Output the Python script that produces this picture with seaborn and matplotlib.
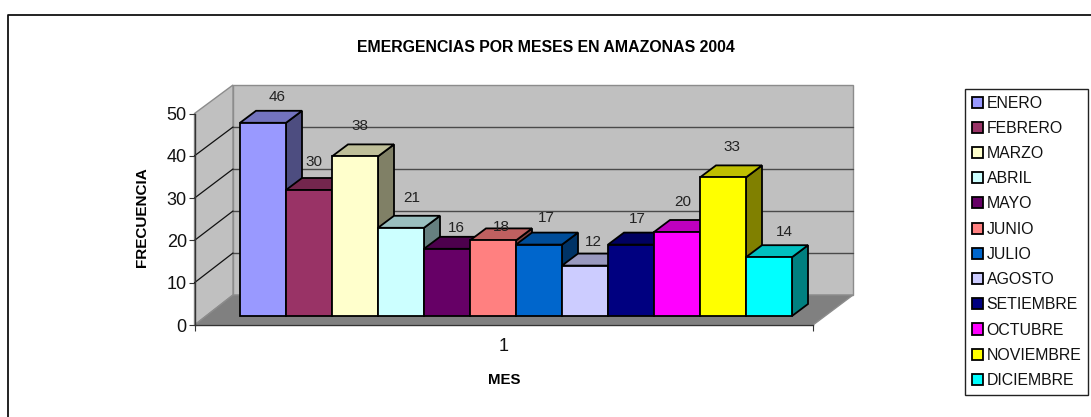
# barras tipo excel 3d, emergencias por meses
import pandas as pd
import seaborn as sns
import matplotlib.pyplot as plt
from matplotlib.patches import Polygon
from matplotlib.transforms import Affine2D

# datos
meses = ['ENERO', 'FEBRERO', 'MARZO', 'ABRIL', 'MAYO', 'JUNIO', 'JULIO', 'AGOSTO',
         'SETIEMBRE', 'OCTUBRE', 'NOVIEMBRE', 'DICIEMBRE']
frecuencia = [46, 30, 38, 21, 16, 18, 17, 12, 17, 20, 33, 14]
colores = ['#9999FF', '#993366', '#FFFFCC', '#CCFFFF', '#660066', '#FF8080',
           '#0066CC', '#CCCCFF', '#000080', '#FF00FF', '#FFFF00', '#00FFFF']
# desplazamiento de cada etiqueta respecto a la barra, en pixeles
etiqueta_dx = [14, 5, 5, 11, 9, 8, 7, 8, 6, 6, 9, 15]
etiqueta_dy = [26, 28, 30, 30, 21, 13, 27, 24, 26, 30, 30, 25]

W, H = 1091, 417
sns.set_style('white')
plt.rcParams['font.family'] = ['Liberation Sans', 'DejaVu Sans']

fig = plt.figure(figsize=(W / 100, H / 100), dpi=100)
fig.patch.set_facecolor('white')
# pixeles de la imagen (y hacia abajo) a display
pix = Affine2D().scale(1, -1).translate(0, H)


def caja(x0, y0, x1, y1):
    return [x0 / W, 1 - y1 / H, (x1 - x0) / W, (y1 - y0) / H]


# marco del grafico, solo arriba e izquierda
fig.add_artist(plt.Line2D([7.5, 7.5, W], [H, 14.5, 14.5], color='#111111', lw=1.3, transform=pix))

# plano frontal, con los ejes de verdad
ax = fig.add_axes(caja(194.5, 113.5, 813, 325))
ax.set_xlim(0, 1)
ax.set_ylim(0, 50)
ax.patch.set_alpha(0)
sns.despine(ax=ax)
for s in ['left', 'bottom']:
    ax.spines[s].set_color('#333333')
    ax.spines[s].set_linewidth(1.0)
ax.spines['left'].set_zorder(5)
ax.set_yticks(range(0, 51, 10))
ax.tick_params(axis='y', left=True, length=4, width=0.8, color='#333333', labelsize=13, pad=1.5,
               labelcolor='#111111')
ax.set_xticks([0, 1], labels=['', ''])
ax.set_xticks([0.5], labels=['1'], minor=True)
ax.tick_params(axis='x', which='major', bottom=True, length=4, width=0.8, color='#333333')
ax.tick_params(axis='x', which='minor', bottom=False, labelsize=13, pad=7.5, labelcolor='#111111')
ax.set_xlabel('MES', fontsize=10.8, fontweight='bold', color='black')
ax.xaxis.set_label_coords(0.5, -0.225)
ax.set_ylabel('FRECUENCIA', fontsize=11, fontweight='bold', color='black')
ax.yaxis.set_label_coords(-0.073, 0.51)
ax.set_title('EMERGENCIAS POR MESES EN AMAZONAS 2004', fontsize=11.4, fontweight='bold',
             x=0.568, y=1.25, color='black')

# paredes y piso
xf0, xf1, yf0 = 194.5, 813, 325
xb0, xb1, yb0, yb1 = 233, 853, 295, 85
esc = (yb0 - yb1) / 50
paredes = [
    ([(xb0, yb1), (xb1, yb1), (xb1, yb0), (xb0, yb0)], '#C0C0C0'),
    ([(xf0, 113.5), (xb0, yb1), (xb0, yb0), (xf0, yf0)], '#C0C0C0'),
    ([(xf0, yf0), (xb0, yb0), (xb1, yb0), (xf1, yf0)], '#808080'),
]
for pts, c in paredes:
    fig.add_artist(Polygon(pts, closed=True, facecolor=c, edgecolor='#8c8c8c', lw=1.0,
                           transform=pix, zorder=-1))
for v in [10, 20, 30, 40]:
    yb = yb0 - v * esc
    yf = yf0 - v * (yf0 - 113.5) / 50
    fig.add_artist(plt.Line2D([xb0, xb1], [yb, yb], color='#4a4a4a', lw=1.0,
                              transform=pix, zorder=-0.5))
    fig.add_artist(plt.Line2D([xf0, xb0], [yf, yb], color='#111111', lw=0.9,
                              transform=pix, zorder=-0.5))

# barras: una sola categoria con un hue por mes, como en la hoja original
tabla = pd.DataFrame({'serie': ['1'] * len(meses), 'mes': meses, 'frecuencia': frecuencia})
ax2 = fig.add_axes(caja(240, 106, 792, 316))
sns.barplot(data=tabla, x='serie', y='frecuencia', hue='mes', palette=colores, saturation=1,
            width=1, gap=0, edgecolor='black', linewidth=1.3, ax=ax2)
ax2.set_xlim(-0.5, 0.5)
ax2.set_ylim(0, 50)
ax2.axis('off')
ax2.patch.set_alpha(0)

# fondo de cada barra en datos: 16 px y 12 px
ancho_bar = 1 / len(meses)
prof_x = ancho_bar * 16 / 46
prof_y = 12 / 4.2


def oscurecer(c, f):
    r, g, b = plt.matplotlib.colors.to_rgb(c)
    return (r * f, g * f, b * f)


barras = [b for cont in ax2.containers for b in cont]
for i, b in enumerate(barras):
    x0 = b.get_x()
    x1 = x0 + b.get_width()
    h = b.get_height()
    b.set_zorder(10 + 3 * i + 2)
    b.set_clip_on(False)
    b.set_joinstyle('miter')
    tapa = [(x0, h), (x0 + prof_x, h + prof_y), (x1 + prof_x, h + prof_y), (x1, h)]
    lado = [(x1, 0), (x1 + prof_x, prof_y), (x1 + prof_x, h + prof_y), (x1, h)]
    ax2.add_patch(Polygon(tapa, closed=True, facecolor=oscurecer(colores[i], 0.75), edgecolor='black',
                          lw=1.3, zorder=10 + 3 * i + 1, clip_on=False, joinstyle='miter'))
    ax2.add_patch(Polygon(lado, closed=True, facecolor=oscurecer(colores[i], 0.5), edgecolor='black',
                          lw=1.3, zorder=10 + 3 * i, clip_on=False, joinstyle='miter'))
    ax2.annotate(str(frecuencia[i]), (x0 + b.get_width() / 2, h),
                 xytext=(etiqueta_dx[i], etiqueta_dy[i]), textcoords='offset pixels',
                 ha='center', va='center', fontsize=11, color='#222222', zorder=100,
                 annotation_clip=False)

# leyenda
sns.move_legend(ax2, loc='upper left', bbox_to_anchor=(965 / W, 1 - 89 / H),
                bbox_transform=fig.transFigure, title=None, frameon=True, fancybox=False,
                fontsize=11.4, labelspacing=0.645, handlelength=0.7, handleheight=0.7,
                handletextpad=0.25, borderpad=0.42, borderaxespad=0)
leg = ax2.get_legend()
leg.get_frame().set_edgecolor('#222222')
leg.get_frame().set_linewidth(1.0)
leg.get_frame().set_alpha(1)
leg.set_zorder(200)
for t in leg.get_texts():
    t.set_color('#111111')

fig.savefig('out.png', dpi=100)
